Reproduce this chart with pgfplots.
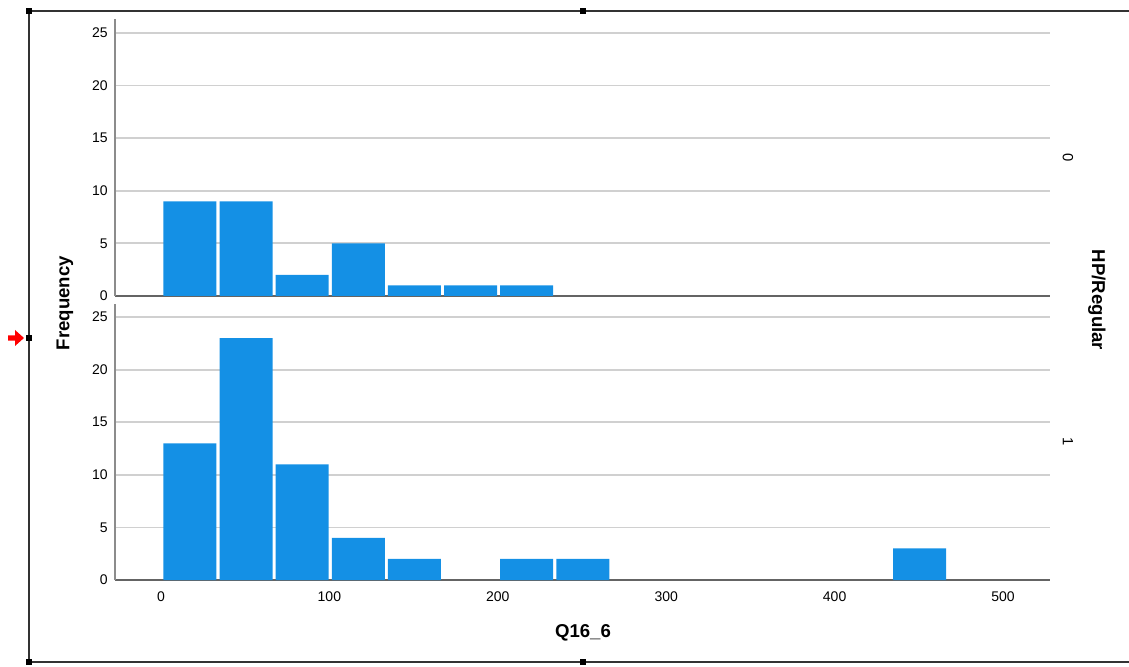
\documentclass[border=0pt]{standalone}
\usepackage{pgfplots}
\pgfplotsset{compat=1.18}
\usepackage{fontspec}
\setmainfont{Liberation Sans}
\definecolor{barblue}{RGB}{20,144,229}
\definecolor{gridgray}{RGB}{208,208,208}
\definecolor{axgray}{RGB}{140,140,140}
\definecolor{basegray}{RGB}{100,100,100}
\pgfplotsset{
  panel/.style={
    scale only axis,
    width=467.5pt,
    xmin=-27.3, xmax=527.9,
    ymin=0,
    axis x line*=bottom,
    axis y line*=left,
    x axis line style={-, draw=basegray, line width=0.9pt},
    y axis line style={-, draw=axgray, line width=0.7pt},
    major tick length=0pt,
    ytick={0,5,10,15,20,25},
    xtick={0,100,200,300,400,500},
    ymajorgrids,
    grid style={draw=gridgray, line width=0.9pt},
    /pgf/number format/assume math mode=true,
    tick label style={font=\fontsize{7}{8}\selectfont, text=black},
    yticklabel style={inner sep=0pt, anchor=east, xshift=-3.5pt},
    xticklabel style={inner sep=0pt, anchor=north, yshift=-5.5pt},
  },
  hbar/.style={ybar, bar width=31.5, bar shift=0.5, fill=barblue, draw=none},
}
\begin{document}
\begin{tikzpicture}
\path[use as bounding box] (0,0) rectangle (564.5pt,-333.5pt);
% upper panel (HP/Regular = 0)
\begin{axis}[panel, at={(57.5pt,-148pt)}, anchor=south west,
  height=138.25pt, ymax=26.28, xticklabels={}]
\addplot[hbar] coordinates {
  (16.667,9) (50,9) (83.333,2) (116.667,5) (150,1) (183.333,1) (216.667,1)
};
\end{axis}
% lower panel (HP/Regular = 1)
\begin{axis}[panel, at={(57.5pt,-290pt)}, anchor=south west,
  height=138pt, ymax=26.24]
\addplot[hbar] coordinates {
  (16.667,13) (50,23) (83.333,11) (116.667,4) (150,2) (216.667,2) (250,2) (450,3)
};
\end{axis}
% labels
\node[rotate=90, font=\fontsize{9.3}{11}\selectfont\bfseries] at (32.5pt,-151.5pt) {Frequency};
\node[font=\fontsize{9.3}{11}\selectfont\bfseries] at (291.5pt,-316.5pt) {Q16\_6};
\node[rotate=-90, font=\fontsize{9.3}{11}\selectfont\bfseries] at (548.5pt,-150pt) {HP/Regular};
\node[rotate=-90, font=\fontsize{7.4}{8}\selectfont] at (534pt,-79pt) {0};
\node[rotate=-90, font=\fontsize{7.4}{8}\selectfont] at (534pt,-221pt) {1};
% selection frame
\draw[line width=0.7pt, draw=black!80] (564.5pt,-5.5pt) -- (14.5pt,-5.5pt) -- (14.5pt,-331pt) -- (564.5pt,-331pt);
\foreach \p in {(14.5pt,-5.5pt),(291.5pt,-5.5pt),(14.5pt,-169pt),(14.5pt,-331pt),(291.5pt,-331pt)}
  \fill[black] \p ++(-1.4pt,-1.4pt) rectangle ++(2.8pt,2.8pt);
\fill[red] (4pt,-167.7pt) -- (7.5pt,-167.7pt) -- (7.5pt,-165pt) -- (12pt,-169pt) -- (7.5pt,-173pt) -- (7.5pt,-170.3pt) -- (4pt,-170.3pt) -- cycle;
\end{tikzpicture}
\end{document}
